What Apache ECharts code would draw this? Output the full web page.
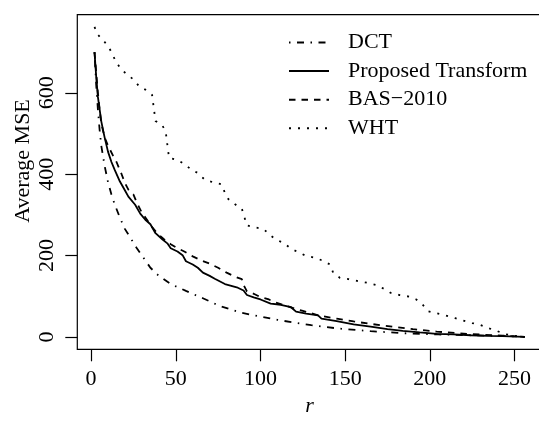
<!DOCTYPE html>
<html>
<head>
<meta charset="utf-8">
<script src="https://cdn.jsdelivr.net/npm/echarts@6/dist/echarts.min.js"></script>
<style>html,body{margin:0;padding:0;background:#fff}#c{width:539px;height:423px}</style>
</head>
<body>
<div id="c"></div>
<script>
// ---- data ----
var xTicks = [0, 50, 100, 150, 200, 250];
var yTicks = [0, 200, 400, 600];

var dctR   = [2,3,4,5,6,7,8,10,12,14,17,20,23,27,30,35,40,47,56,66,76,88,100,110,120,130,145,165,185,205,225,245,256];
var dctMSE = [700,620,560,510,470,445,420,380,350,325,293,265,245,218,200,170,150,130,113,95,76,60,50,42,35,29,21,14,9,6,4,2,0];

var propR   = [2,3,4,5,6,8,10,12,14,17,20,22,26,29,32,35,38,42,45,47,51,54,56,60,63,66,70,73,79,86,90,92,96,100,106,112,118,121,127,134,136,145,155,165,175,184,194,204,214,224,234,243,256];
var propMSE = [700,640,590,560,530,490,455,430,410,382,360,345,325,303,288,277,255,240,230,218,210,201,186,178,170,158,150,143,130,122,114,103,97,92,82,79,73,62,57,53,45,39,31,25,19,15,11,7.5,6,4,2.5,1.7,0];

var basR   = [2,3,4,5,6,8,10,13,15,18,20,22,25,27,30,33,36,39,43,47,51,55,60,65,70,75,80,85,89,90,92,96,100,105,108,114,120,125,130,135,145,155,165,178,190,204,224,243,256];
var basMSE = [700,650,600,560,525,490,470,445,430,400,378,362,350,330,305,288,270,255,240,228,218,210,198,188,180,170,158,148,142,128,112,106,98,92,86,78,70,64,58,52,45,38,32,25,19,13,7,3,0];

var whtR   = [2,4,8,11,13,15,18,21,25,28,32,36,38,42,44,46,51,55,59,63,67,72,77,79,81,85,89,92,97,102,105,109,114,118,122,127,132,137,141,143,147,152,158,163,168,173,177,182,188,192,196,199,204,209,215,219,225,230,235,240,244,250,256];
var whtMSE = [762,743,725,708,691,674,657,646,633,618,608,595,531,520,506,440,435,425,412,403,387,380,375,354,339,326,315,274,269,265,252,240,230,217,209,199,195,187,178,157,145,142,137,133,128,118,108,103,99,92,78,63,58,53,46,41,34,29,21,14,7,2.5,0];

var seriesNames = ['DCT', 'Proposed Transform', 'BAS\u22122010', 'WHT'];

function pairs(rs, vs) { return rs.map(function (r, i) { return [r, vs[i]]; }); }

var FONT = '"Liberation Serif", "Times New Roman", serif';
var chart = echarts.init(document.getElementById('c'), null, {renderer: 'canvas'});

function lineSeries(name, data, dash) {
  return {
    name: name, type: 'line', data: data, symbol: 'none', showSymbol: false,
    lineStyle: {color: '#000', width: 1.8, type: dash, cap: 'butt'},
    itemStyle: {color: '#000'},
    emphasis: {disabled: true}, silent: true
  };
}

chart.setOption({
  animation: false,
  backgroundColor: '#fff',
  grid: {left: 77.3, top: 14.7, width: 464.6, height: 334.6, show: true,
         outerBoundsMode: 'none', containLabel: false,
         borderColor: '#000', borderWidth: 1.2, backgroundColor: 'transparent'},
  legend: {
    left: 288, top: 31.5, orient: 'vertical', padding: 0,
    itemWidth: 40, itemHeight: 20, itemGap: 6.6,
    selectedMode: false,
    itemStyle: {opacity: 0, borderWidth: 0},
    textStyle: {fontFamily: FONT, fontSize: 22, color: '#000', lineHeight: 20, padding: [0, 0, 0, 14]},
    data: seriesNames
  },
  xAxis: {
    type: 'value', min: -8.16, max: 266.16,
    name: 'r', nameLocation: 'middle', nameGap: 46, nameMoveOverlap: false,
    nameTextStyle: {fontFamily: FONT, fontSize: 22, fontStyle: 'italic', color: '#000'},
    axisLine: {show: false, onZero: false},
    axisTick: {show: true, inside: false, length: 12, customValues: xTicks, lineStyle: {color: '#000', width: 1.2}},
    axisLabel: {customValues: xTicks, margin: 19, fontFamily: FONT, fontSize: 22, color: '#000'},
    splitLine: {show: false}
  },
  yAxis: {
    type: 'value', min: -30.5, max: 792.2,
    name: 'Average MSE', nameLocation: 'middle', nameGap: 43, nameMoveOverlap: false,
    nameTextStyle: {fontFamily: FONT, fontSize: 22, color: '#000', padding: [0, 0, 0, 42]},
    axisLine: {show: false, onZero: false},
    axisTick: {show: true, inside: false, length: 12, customValues: yTicks, lineStyle: {color: '#000', width: 1.2}},
    axisLabel: {customValues: yTicks, rotate: 90, margin: 19.5, fontFamily: FONT, fontSize: 22, color: '#000'},
    splitLine: {show: false}
  },
  series: [
    lineSeries(seriesNames[0], pairs(dctR, dctMSE), [1.5, 6.5, 7, 6.5]),
    lineSeries(seriesNames[1], pairs(propR, propMSE), 'solid'),
    lineSeries(seriesNames[2], pairs(basR, basMSE), [6.5, 6]),
    lineSeries(seriesNames[3], pairs(whtR, whtMSE), [2, 7])
  ]
});
</script>
</body>
</html>
